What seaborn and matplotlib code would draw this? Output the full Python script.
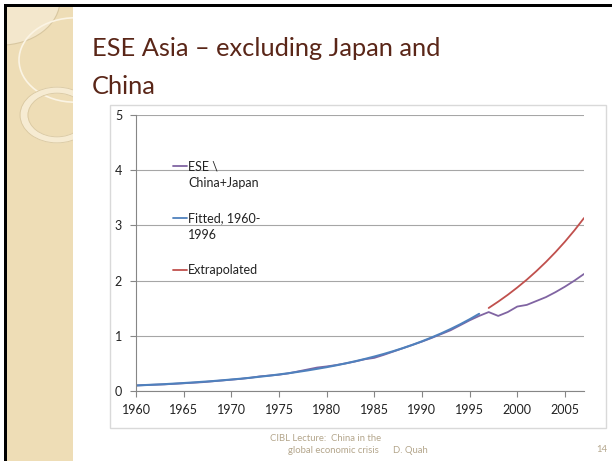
import matplotlib
matplotlib.use("Agg")
import matplotlib.pyplot as plt
import seaborn as sns
from matplotlib.patches import Rectangle, Circle

# ---- data ----
actual_years = list(range(1960, 2008))
actual_values = [0.100, 0.108, 0.114, 0.120, 0.130, 0.140, 0.150, 0.160, 0.175, 0.190,
                 0.205, 0.220, 0.240, 0.265, 0.280, 0.295, 0.320, 0.355, 0.390, 0.425,
                 0.445, 0.470, 0.500, 0.535, 0.575, 0.600, 0.655, 0.715, 0.775, 0.835,
                 0.895, 0.960, 1.030, 1.100, 1.190, 1.280, 1.360, 1.430, 1.360, 1.430,
                 1.530, 1.560, 1.630, 1.700, 1.790, 1.890, 2.000, 2.120]

fitted_years = list(range(1960, 1997))
fitted_values = [0.100, 0.108, 0.116, 0.124, 0.134, 0.144, 0.155, 0.167, 0.179, 0.193,
                 0.208, 0.223, 0.240, 0.259, 0.278, 0.300, 0.322, 0.347, 0.373, 0.402,
                 0.432, 0.465, 0.501, 0.539, 0.580, 0.624, 0.671, 0.722, 0.777, 0.836,
                 0.900, 0.969, 1.042, 1.122, 1.207, 1.299, 1.398]

extrap_years = list(range(1997, 2008))
extrap_values = [1.504, 1.619, 1.742, 1.875, 2.017, 2.171, 2.336, 2.514, 2.705, 2.911, 3.133]

legend_labels = [["ESE \\", "China+Japan"], ["Fitted, 1960-", "1996"], ["Extrapolated"]]
series_colors = ["#8064A2", "#4F81BD", "#C0504D"]

title_lines = ["ESE Asia \u2013 excluding Japan and", "China"]

W, H = 612, 461


def fx(x):
    return x / W


def fy(y):
    return 1 - y / H


sns.set_style("white")
plt.rcParams["font.family"] = ["Lato", "DejaVu Sans"]

fig = plt.figure(figsize=(W / 100, H / 100), dpi=100)
fig.patch.set_facecolor("white")

# ---- slide decoration ----
strip = Rectangle((fx(7), fy(461)), fx(66), 454 / H, transform=fig.transFigure,
                  fc="#EEDDB6", ec="none", zorder=0)
fig.add_artist(strip)
corner = Circle((fx(0), fy(0)), 60 / W, transform=fig.transFigure,
                fc="#F3E7CC", ec="#D8C7A0", lw=0.8, zorder=1)
corner.set_clip_path(strip)
fig.add_artist(corner)
big = Circle((fx(75), fy(60)), 56 / W, transform=fig.transFigure,
             fill=False, ec="#FBF4E4", lw=1.2, zorder=1)
big.set_clip_path(strip)
fig.add_artist(big)
ring = Circle((fx(57), fy(115)), 33 / W, transform=fig.transFigure,
              fill=False, ec="#F6EBD2", lw=5, zorder=1)
ring.set_clip_path(strip)
fig.add_artist(ring)
for r in (37, 29):
    c = Circle((fx(57), fy(115)), r / W, transform=fig.transFigure,
               fill=False, ec="#D9C8A2", lw=0.6, zorder=1)
    c.set_clip_path(strip)
    fig.add_artist(c)

fig.add_artist(Rectangle((fx(4), fy(7)), 1, 3 / H, transform=fig.transFigure,
                         fc="black", ec="none", zorder=2))
fig.add_artist(Rectangle((fx(4), 0), 3 / W, fy(4), transform=fig.transFigure,
                         fc="black", ec="none", zorder=2))

for t, base in zip(title_lines, [56, 94]):
    fig.text(fx(92), fy(base), t, ha="left", va="baseline", fontsize=18.3,
             color="#5A2618")

# chart area border
fig.add_artist(Rectangle((fx(110), fy(428)), 496 / W, 323 / H, transform=fig.transFigure,
                         fill=False, ec="#D9D9D9", lw=1, zorder=2))

# ---- chart ----
ax = fig.add_axes([fx(136), fy(391), 448 / W, 276 / H])
ax.set_facecolor("none")

sns.lineplot(x=actual_years, y=actual_values, ax=ax, color=series_colors[0], lw=1.3)
sns.lineplot(x=fitted_years, y=fitted_values, ax=ax, color=series_colors[1], lw=1.5)
sns.lineplot(x=extrap_years, y=extrap_values, ax=ax, color=series_colors[2], lw=1.3)

ax.set_xlim(1960, 2007)
ax.set_ylim(0, 5)
ax.set_xticks(range(1960, 2006, 5))
ax.set_yticks(range(0, 6))
ax.yaxis.grid(True, color="#A6A6A6", lw=0.8)
ax.set_axisbelow(True)
for s in ("top", "right"):
    ax.spines[s].set_visible(False)
for s in ("left", "bottom"):
    ax.spines[s].set_color("#868686")
    ax.spines[s].set_linewidth(0.8)
ax.tick_params(bottom=True, left=True, direction="out", length=4, width=0.8,
               color="#868686", labelsize=9, labelcolor="#222222")
ax.tick_params(axis="x", pad=5)
ax.tick_params(axis="y", pad=6)
ax.set_xlabel("")
ax.set_ylabel("")

# legend drawn like the Excel one: handle on the first text line
legend_first_px = [166, 218, 270]
line_step = 17
for lines, color, y0 in zip(legend_labels, series_colors, legend_first_px):
    ya = (391 - y0) / 276
    ax.plot([(173 - 136) / 448, (187 - 136) / 448], [ya, ya], color=color, lw=1.3,
            transform=ax.transAxes, clip_on=False)
    for i, t in enumerate(lines):
        ax.text((188 - 136) / 448, (391 - y0 - i * line_step) / 276, t,
                transform=ax.transAxes, ha="left", va="center", fontsize=9,
                color="#222222")

# ---- footer ----
foot = "#B4A68C"
fig.text(fx(270), fy(438), "CIBL Lecture:  China in the", ha="left", va="center",
         fontsize=6.8, color=foot)
fig.text(fx(379), fy(450), "global economic crisis", ha="right", va="center",
         fontsize=6.8, color=foot)
fig.text(fx(393), fy(450), "D. Quah", ha="left", va="center", fontsize=6.8, color=foot)
fig.text(fx(602), fy(449), "14", ha="center", va="center", fontsize=6.8, color=foot)

fig.savefig("out.png", dpi=100)
